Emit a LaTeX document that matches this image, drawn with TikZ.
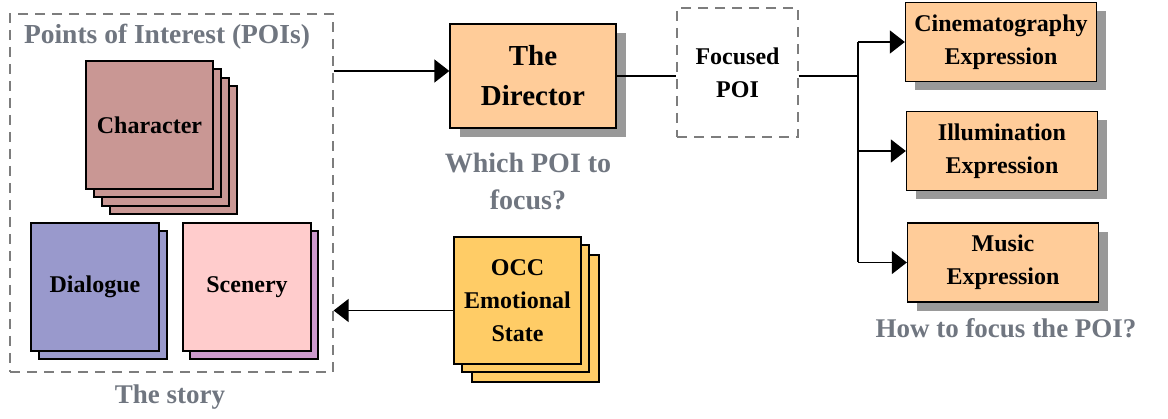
\documentclass[tikz,border=0pt]{standalone}
\usepackage{fontspec}
\setmainfont{Liberation Serif}
\usetikzlibrary{arrows.meta,shadows,calc}

\definecolor{charcol}{RGB}{201,151,148}
\definecolor{dialcol}{RGB}{153,153,204}
\definecolor{scencol}{RGB}{255,204,204}
\definecolor{scenback}{RGB}{204,153,204}
\definecolor{peach}{RGB}{255,204,153}
\definecolor{occcol}{RGB}{255,204,102}
\definecolor{shadowgray}{RGB}{153,153,153}
\definecolor{labelgray}{RGB}{112,118,128}
\definecolor{dashgray}{RGB}{125,125,125}

\begin{document}
\begin{tikzpicture}[x=1pt,y=-1pt,
  box/.style={draw=black, line width=1.3pt, align=center, inner sep=0pt,
    font=\bfseries\fontsize{24}{33}\selectfont},
  card/.style={box, minimum width=127pt, minimum height=128pt},
  stackcopy/.style n args={3}{copy shadow={shadow xshift=#1pt, shadow yshift=-#2pt,
    fill=#3, draw=black, line width=1.3pt}},
  exprbox/.style={box, fill=peach, minimum width=191pt, minimum height=79pt,
    drop shadow={shadow xshift=9pt, shadow yshift=-9pt, fill=shadowgray, opacity=1}},
  dashbox/.style={draw=dashgray, line width=1.2pt, dash pattern=on 10pt off 7pt, inner sep=0pt},
  graylabel/.style={text=labelgray, align=center, font=\bfseries\fontsize{27}{37}\selectfont},
  conn/.style={draw=black, line width=1.3pt},
  arr/.style={conn, -{Triangle[length=15pt,width=23pt]}}
]
\useasboundingbox (0,0) rectangle (1168,419);

% the story and its points of interest
\node[dashbox, minimum width=323pt, minimum height=358pt] (story) at (171.5,193) {};
\node[graylabel, font=\bfseries\fontsize{27.5}{37}\selectfont] (poititle) at (167,37) {Points of Interest (POIs)};
\node[graylabel] (storylabel) at (170,397) {The story};

\node[card, fill=charcol,
  stackcopy={24}{25}{charcol}, stackcopy={16}{17}{charcol}, stackcopy={8}{8}{charcol}]
  (ch) at (149.5,125) {Character};
\node[card, minimum width=128pt, fill=dialcol, stackcopy={8}{8}{dialcol}]
  (dia) at (95,287) {Dialogue};
\node[card, minimum width=128pt, fill=scencol, stackcopy={7}{8}{scenback}]
  (scen) at (247,287) {Scenery};

% the director
\node[box, fill=peach, minimum width=166pt, minimum height=104pt,
  font=\bfseries\fontsize{29}{40}\selectfont,
  drop shadow={shadow xshift=10pt, shadow yshift=-9pt, fill=shadowgray, opacity=1}]
  (dir) at (533,76) {The\\Director};
\node[graylabel, font=\bfseries\fontsize{28}{37}\selectfont] (which) at (528,181.5) {Which POI to\\focus?};

% focused point of interest
\node[dashbox, minimum width=121pt, minimum height=129pt, align=center,
  font=\bfseries\fontsize{24}{33}\selectfont] (foc) at (737.5,72.5) {Focused\\POI};

% expression channels
\node[exprbox] (cine) at (1001,42) {Cinematography\\Expression};
\node[exprbox] (illu) at (1002,151) {Illumination\\Expression};
\node[exprbox] (mus) at (1003,262.5) {Music\\Expression};
\node[graylabel] (how) at (1006,328) {How to focus the POI?};

% emotional state
\node[card, minimum height=127pt, fill=occcol,
  stackcopy={18}{18}{occcol}, stackcopy={8}{8}{occcol}]
  (occ) at (517.5,300.5) {OCC\\Emotional\\State};

% connectors
\draw[arr] ($(story.east |- dir.west)+(0,-5)$) -- ($(dir.west)+(0,-5)$);
\draw[conn] (dir.east) -- (dir.east -| foc.west);
\coordinate (jn) at (858,76);
\draw[conn] (dir.east -| foc.east) -- (jn);
\draw[conn] (jn |- cine.west) -- (jn |- mus.west);
\draw[arr] (jn |- cine.west) -- (cine.west);
\draw[arr] (jn |- illu.west) -- (illu.west);
\draw[arr] (jn |- mus.west) -- (mus.west);
\coordinate (occout) at ($(occ.west)+(0,10)$);
\draw[arr] (occout) -- (occout -| story.east);
\end{tikzpicture}
\end{document}
